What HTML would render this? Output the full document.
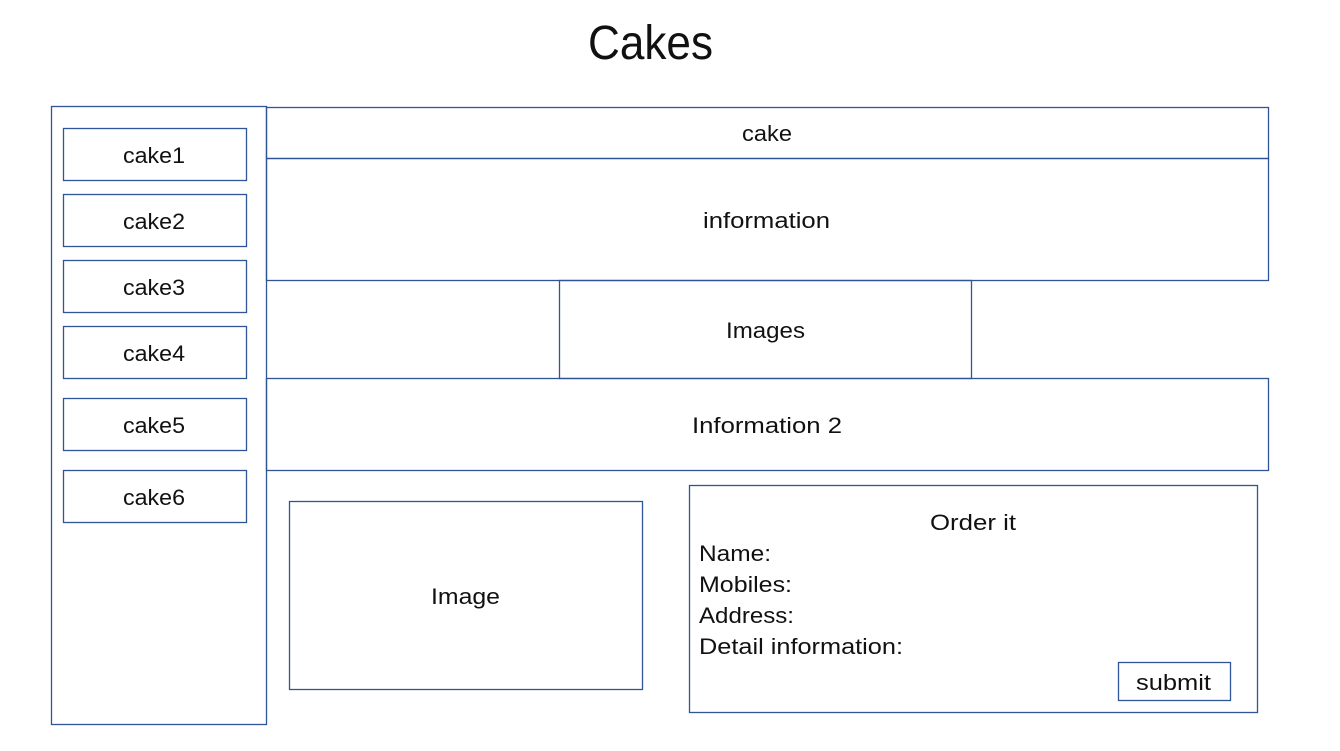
<!DOCTYPE html>
<html><head><meta charset="utf-8"><style>
html,body{margin:0;padding:0;background:#fff;}
svg{display:block;}
text{font-family:"Liberation Sans","Noto Sans CJK SC",sans-serif;fill:#111;}
</style></head><body>
<svg width="1340" height="751" viewBox="0 0 1340 751" xmlns="http://www.w3.org/2000/svg">
<g fill="none" stroke="#2f5597" stroke-width="1.3">
<rect x="51.5" y="106.5" width="215" height="618"/>
<rect x="63.5" y="128.5" width="183" height="52"/>
<rect x="63.5" y="194.5" width="183" height="52"/>
<rect x="63.5" y="260.5" width="183" height="52"/>
<rect x="63.5" y="326.5" width="183" height="52"/>
<rect x="63.5" y="398.5" width="183" height="52"/>
<rect x="63.5" y="470.5" width="183" height="52"/>
<rect x="266.5" y="107.5" width="1002" height="51"/>
<rect x="266.5" y="158.5" width="1002" height="122"/>
<rect x="559.5" y="280.5" width="412" height="98"/>
<rect x="266.5" y="378.5" width="1002" height="92"/>
<rect x="289.5" y="501.5" width="353" height="188"/>
<rect x="689.5" y="485.5" width="568" height="227"/>
<rect x="1118.5" y="662.5" width="112" height="38"/>
</g>
<text x="588" y="59" font-size="48" textLength="125" lengthAdjust="spacingAndGlyphs">Cakes</text>
<g font-size="22">
<text x="123" y="163" textLength="62" lengthAdjust="spacingAndGlyphs">cake1</text>
<text x="123" y="229" textLength="62" lengthAdjust="spacingAndGlyphs">cake2</text>
<text x="123" y="295" textLength="62" lengthAdjust="spacingAndGlyphs">cake3</text>
<text x="123" y="361" textLength="62" lengthAdjust="spacingAndGlyphs">cake4</text>
<text x="123" y="433" textLength="62" lengthAdjust="spacingAndGlyphs">cake5</text>
<text x="123" y="505" textLength="62" lengthAdjust="spacingAndGlyphs">cake6</text>
<text x="742" y="141" textLength="50" lengthAdjust="spacingAndGlyphs">cake</text>
<text x="703" y="228" textLength="127" lengthAdjust="spacingAndGlyphs">information</text>
<text x="726" y="338" textLength="79" lengthAdjust="spacingAndGlyphs">Images</text>
<text x="692" y="433" textLength="150" lengthAdjust="spacingAndGlyphs">Information 2</text>
<text x="431" y="604" textLength="69" lengthAdjust="spacingAndGlyphs">Image</text>
<text x="930" y="530" textLength="86" lengthAdjust="spacingAndGlyphs">Order it</text>
<text x="1136" y="690" textLength="75" lengthAdjust="spacingAndGlyphs">submit</text>
<text x="699" y="561" textLength="72" lengthAdjust="spacingAndGlyphs">Name:</text>
<text x="699" y="592" textLength="93" lengthAdjust="spacingAndGlyphs">Mobiles:</text>
<text x="699" y="623" textLength="95" lengthAdjust="spacingAndGlyphs">Address:</text>
<text x="699" y="654" textLength="204" lengthAdjust="spacingAndGlyphs">Detail information:</text>
</g>
</svg>
</body></html>
